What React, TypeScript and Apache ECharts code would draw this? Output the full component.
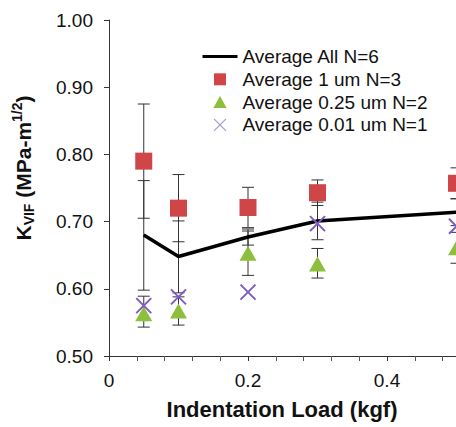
import React, { useEffect, useRef } from "react";
import * as echarts from "echarts";

// Indentation load (kgf)
const loads = [0.05, 0.1, 0.2, 0.3, 0.5];

// Average All N=6 (line) and its error bar ends
const avgAll = [0.68, 0.648, 0.677, 0.701, 0.714];
const avgAllLow = [0.598, 0.594, 0.665, 0.673, 0.694];
const avgAllHigh = [0.761, 0.701, 0.689, 0.729, 0.734];

// Average 1 um N=3 (squares)
const avg1um = [0.79, 0.72, 0.721, 0.743, 0.757];
const avg1umLow = [0.705, 0.67, 0.691, 0.724, 0.734];
const avg1umHigh = [0.875, 0.77, 0.751, 0.762, 0.78];

// Average 0.25 um N=2 (triangles)
const avg025um = [0.563, 0.567, 0.653, 0.637, 0.661];
const avg025umLow = [0.543, 0.546, 0.62, 0.616, 0.638];
const avg025umHigh = [0.589, 0.588, 0.686, 0.66, 0.684];

// Average 0.01 um N=1 (crosses)
const avg001um = [0.575, 0.588, 0.595, 0.697, 0.693];

const yTicks = [0.5, 0.6, 0.7, 0.8, 0.9, 1.0];
const xTickLabels = ["0", "0.2", "0.4"];

const seriesNames = [
  "Average All N=6",
  "Average 1 um N=3",
  "Average 0.25 um N=2",
  "Average 0.01 um N=1",
];

const FONT = "Arial, 'Liberation Sans', Helvetica, sans-serif";
const CROSS = "path://M0,0L10,10M10,0L0,10";
const SQUARE = "path://M0,0L10,0L10,10L0,10Z";
const TRIANGLE = "path://M5,0L10,9L0,9Z";

export default function App() {
  const ref = useRef<HTMLDivElement>(null);
  useEffect(() => {
    if (!ref.current) return;
    const chart = echarts.init(ref.current, null, { renderer: "svg" });

    const errData: number[][] = [];
    loads.forEach((x, i) => {
      errData.push([x, avgAllLow[i], avgAllHigh[i]]);
      errData.push([x, avg1umLow[i], avg1umHigh[i]]);
      errData.push([x, avg025umLow[i], avg025umHigh[i]]);
    });

    const option: any = {
      animation: false,
      backgroundColor: "#ffffff",
      grid: { left: 109, top: 20, width: 417, height: 336, containLabel: false },
      xAxis: {
        type: "value",
        min: 0,
        max: 0.6,
        interval: 0.2,
        axisLine: { lineStyle: { color: "#333", width: 1 } },
        axisTick: { show: true, inside: false, length: 5, lineStyle: { color: "#333" } },
        minorTick: { show: true, splitNumber: 5, length: 5, lineStyle: { color: "#555" } },
        splitLine: { show: false },
        axisLabel: {
          fontSize: 19,
          fontFamily: FONT,
          color: "#111",
          margin: 15,
          formatter: (v: number) => {
            const idx = Math.round(v / 0.2);
            return xTickLabels[idx] ?? "";
          },
        },
      },
      yAxis: {
        type: "value",
        min: yTicks[0],
        max: yTicks[yTicks.length - 1],
        interval: 0.1,
        axisLine: { show: true, lineStyle: { color: "#333", width: 1 } },
        axisTick: { show: true, inside: false, length: 5, lineStyle: { color: "#333" } },
        splitLine: { show: false },
        axisLabel: {
          fontSize: 19,
          fontFamily: FONT,
          color: "#111",
          margin: 16,
          formatter: (v: number) => v.toFixed(2),
        },
      },
      legend: {
        orient: "vertical",
        left: 196,
        top: 42,
        itemWidth: 35,
        itemHeight: 12,
        itemGap: 3.8,
        selectedMode: false,
        symbolKeepAspect: true,
        textStyle: { fontSize: 19, fontFamily: FONT, color: "#111" },
        lineStyle: { width: 3 },
        data: [
          { name: seriesNames[0], itemStyle: { color: "rgba(0,0,0,0)", borderWidth: 0 } },
          { name: seriesNames[1], icon: SQUARE },
          { name: seriesNames[2], icon: TRIANGLE },
          {
            name: seriesNames[3],
            icon: CROSS,
            itemStyle: { borderWidth: 1.2, borderColor: "#a896d8" },
          },
        ],
      },
      series: [
        {
          name: "error bars",
          type: "custom",
          z: 1,
          data: errData,
          encode: { x: 0, y: [1, 2] },
          renderItem: (params: any, api: any) => {
            const x = api.value(0);
            const lo = api.coord([x, api.value(1)]);
            const hi = api.coord([x, api.value(2)]);
            const w = 6;
            const st = { stroke: "#333", lineWidth: 1 };
            return {
              type: "group",
              children: [
                { type: "line", shape: { x1: lo[0], y1: lo[1], x2: hi[0], y2: hi[1] }, style: st },
                { type: "line", shape: { x1: lo[0] - w, y1: lo[1], x2: lo[0] + w, y2: lo[1] }, style: st },
                { type: "line", shape: { x1: hi[0] - w, y1: hi[1], x2: hi[0] + w, y2: hi[1] }, style: st },
              ],
            };
          },
        },
        {
          name: seriesNames[0],
          type: "line",
          z: 2,
          symbol: "none",
          data: loads.map((x, i) => [x, avgAll[i]]),
          lineStyle: { color: "#000", width: 3.5 },
          itemStyle: { color: "#000" },
        },
        {
          name: seriesNames[1],
          type: "scatter",
          z: 3,
          symbol: "rect",
          symbolSize: 17,
          data: loads.map((x, i) => [x, avg1um[i]]),
          itemStyle: { color: "#cf4548", opacity: 1 },
        },
        {
          name: seriesNames[2],
          type: "scatter",
          z: 3,
          symbol: "triangle",
          symbolSize: [17, 15],
          data: loads.map((x, i) => [x, avg025um[i]]),
          itemStyle: { color: "#8dbf3c", opacity: 1 },
        },
        {
          name: seriesNames[3],
          type: "scatter",
          z: 4,
          symbol: CROSS,
          symbolSize: 15,
          data: loads.map((x, i) => [x, avg001um[i]]),
          itemStyle: { color: "#7e5cc4", borderColor: "#7e5cc4", borderWidth: 2, opacity: 1 },
        },
      ],
      graphic: [
        {
          type: "text",
          x: 23,
          y: 168,
          rotation: Math.PI / 2,
          style: {
            text: "{k|K}{s|VIF}{t| (MPa-m}{p|1/2}{t|)}",
            align: "center",
            verticalAlign: "middle",
            fill: "#111",
            rich: {
              k: { fontSize: 21, fontWeight: "bold", fontFamily: FONT, lineHeight: 26, fill: "#111" },
              t: { fontSize: 21, fontWeight: "bold", fontFamily: FONT, lineHeight: 26, fill: "#111" },
              s: { fontSize: 14, fontWeight: "bold", fontFamily: FONT, lineHeight: 14, verticalAlign: "bottom", fill: "#111" },
              p: { fontSize: 14, fontWeight: "bold", fontFamily: FONT, lineHeight: 14, verticalAlign: "top", fill: "#111" },
            },
          },
        },
        {
          type: "text",
          x: 282,
          y: 409,
          style: {
            text: "Indentation Load (kgf)",
            fontSize: 22,
            fontWeight: "bold",
            fontFamily: FONT,
            align: "center",
            verticalAlign: "middle",
            fill: "#111",
          },
        },
      ],
    };
    chart.setOption(option);
    return () => chart.dispose();
  }, []);

  return (
    <div
      style={{
        position: "absolute",
        left: 0,
        top: 0,
        width: 456,
        height: 427,
        overflow: "hidden",
        background: "#fff",
      }}
    >
      <div ref={ref} style={{ position: "absolute", left: 0, top: 0, width: 540, height: 427 }} />
    </div>
  );
}
